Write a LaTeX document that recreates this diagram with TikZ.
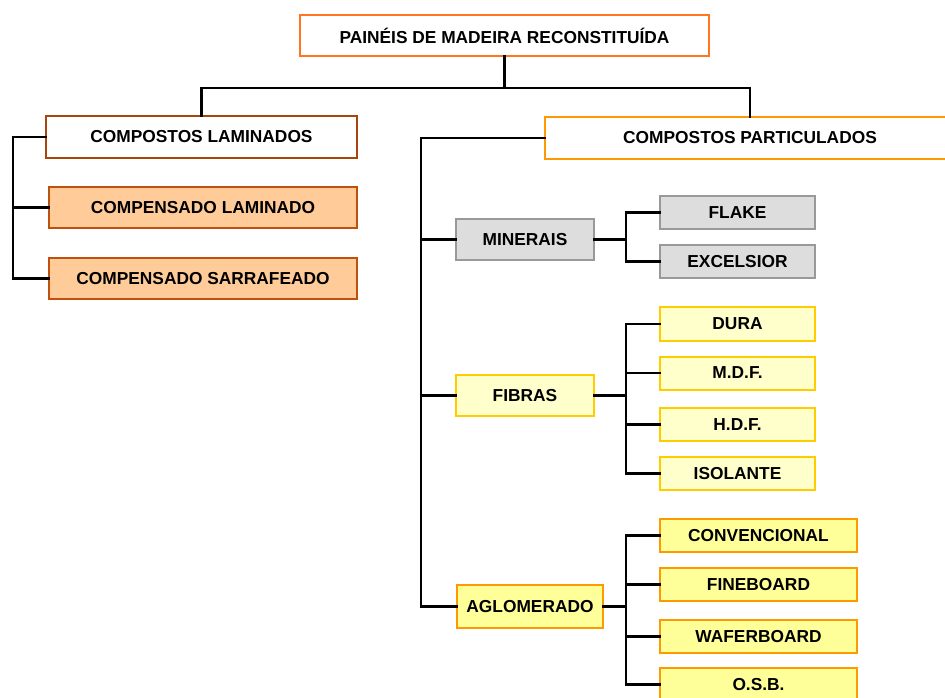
\documentclass[tikz,border=0pt]{standalone}
\usepackage{fontspec}
\setmainfont{Liberation Sans}
\definecolor{topline}{RGB}{255,118,30}
\definecolor{lamline}{RGB}{168,68,12}
\definecolor{lamfill}{RGB}{255,204,153}
\definecolor{lamedge}{RGB}{190,82,12}
\definecolor{partline}{RGB}{255,153,0}
\definecolor{minfill}{RGB}{221,221,221}
\definecolor{minline}{RGB}{153,153,153}
\definecolor{fibfill}{RGB}{255,255,204}
\definecolor{fibline}{RGB}{255,204,0}
\definecolor{aglfill}{RGB}{255,255,153}
\begin{document}
\begin{tikzpicture}[x=0.75pt, y=-0.75pt, font=\bfseries\fontsize{13}{15}\selectfont, every node/.style={outer sep=0pt, inner sep=0pt, line width=1.5pt}, line join=miter, line cap=rect, link/.style={line width=2.2pt}, wide/.style={minimum width=231pt, minimum height=30.75pt}, mid/.style={minimum width=103.5pt, minimum height=30.75pt}, leaf/.style={minimum width=116.25pt, minimum height=24.75pt}, longleaf/.style={minimum width=147.75pt, minimum height=24.75pt}]
        \useasboundingbox (0, 0) rectangle (945, 698);
        \node[draw=topline, fill=white, minimum width=306.75pt, minimum height=30.75pt] (painel) at (504.5, 35.5) {PAINÉIS DE MADEIRA RECONSTITUÍDA};
        \node[draw=lamline, fill=white, wide, minimum width=233.25pt, minimum height=31.5pt] (lam) at (201.5, 137) {COMPOSTOS LAMINADOS};
        \node[draw=lamedge, fill=lamfill, wide] (cl) at (203, 207.5) {COMPENSADO LAMINADO};
        \node[draw=lamedge, fill=lamfill, wide] (cs) at (203, 278.5) {COMPENSADO SARRAFEADO};
        \node[draw=partline, fill=white, minimum width=307.5pt, minimum height=31.5pt] (part) at (750, 138) {COMPOSTOS PARTICULADOS};
        \node[draw=minline, fill=minfill, mid] (min) at (525, 239.5) {MINERAIS};
        \node[draw=minline, fill=minfill, leaf] (flake) at (737.5, 212.5) {FLAKE};
        \node[draw=minline, fill=minfill, leaf] (excel) at (737.5, 261.5) {EXCELSIOR};
        \node[draw=fibline, fill=fibfill, mid] (fib) at (525, 395.5) {FIBRAS};
        \node[draw=fibline, fill=fibfill, leaf] (dura) at (737.5, 324) {DURA};
        \node[draw=fibline, fill=fibfill, leaf] (mdf) at (737.5, 373) {M.D.F.};
        \node[draw=fibline, fill=fibfill, leaf] (hdf) at (737.5, 424.5) {H.D.F.};
        \node[draw=fibline, fill=fibfill, leaf] (iso) at (737.5, 473.5) {ISOLANTE};
        \node[draw=partline, fill=aglfill, minimum width=109.5pt, minimum height=32.25pt] (agl) at (530, 606.5) {AGLOMERADO};
        \node[draw=partline, fill=aglfill, longleaf] (conv) at (758.5, 535.5) {CONVENCIONAL};
        \node[draw=partline, fill=aglfill, longleaf] (fine) at (758.5, 584.5) {FINEBOARD};
        \node[draw=partline, fill=aglfill, longleaf] (wafer) at (758.5, 636.5) {WAFERBOARD};
        \node[draw=partline, fill=aglfill, longleaf] (osb) at (758.5, 684.5) {O.S.B.};
        \coordinate (split) at (504.5, 88);
        \coordinate (lbus) at (13, 278.5);
        \coordinate (pbus) at (421, 606.5);
        \coordinate (mbus) at (626, 239.5);
        \coordinate (fbus) at (626, 395.5);
        \coordinate (abus) at (626, 606.5);
        \draw[link] (painel.south) -- (split);
        \draw[link] (lam.north) |- (split) -| (part.north);
        \draw[link] (lam.west) -| (lbus) -- (cs.west);
        \draw[link] (cl.west) -- (cl.west -| lbus);
        \draw[link] (part.west) -| (pbus) -- (agl.west);
        \draw[link] (min.west) -- (min.west -| pbus);
        \draw[link] (fib.west) -- (fib.west -| pbus);
        \draw[link] (min.east) -- (mbus);
        \draw[link] (flake.west) -| (mbus) |- (excel.west);
        \draw[link] (fib.east) -- (fbus);
        \draw[link] (dura.west) -| (fbus) |- (iso.west);
        \draw[link] (mdf.west) -- (mdf.west -| fbus);
        \draw[link] (hdf.west) -- (hdf.west -| fbus);
        \draw[link] (agl.east) -- (abus);
        \draw[link] (conv.west) -| (abus) |- (osb.west);
        \draw[link] (fine.west) -- (fine.west -| abus);
        \draw[link] (wafer.west) -- (wafer.west -| abus);
    \end{tikzpicture}
\end{document}
